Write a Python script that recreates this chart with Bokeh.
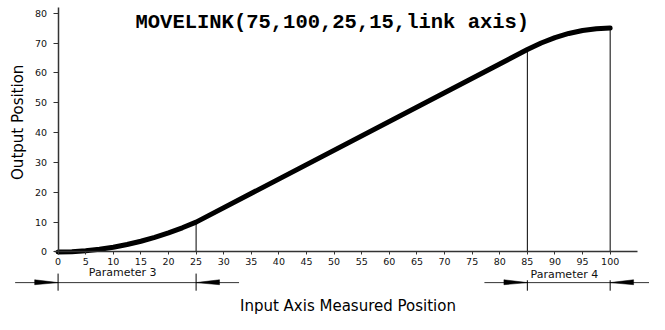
from bokeh.plotting import figure
from bokeh.models import Range1d, FixedTicker, Label
from bokeh.embed import file_html
from bokeh.resources import INLINE
from bokeh.core.properties import value
import numpy as np

# ---------------- data ----------------
title_text = "MOVELINK(75,100,25,15,link axis)"
x_label = "Input Axis Measured Position"
y_label = "Output Position"

input_pos = [0, 2.5, 5, 7.5, 10, 12.5, 15, 17.5, 20, 22.5, 25,
             85, 87.5, 90, 92.5, 95, 97.5, 100]
output_pos = [0, 0.1, 0.4, 0.9, 1.6, 2.5, 3.6, 4.9, 6.4, 8.1, 10.0,
              67.8, 70.0, 71.8, 73.2, 74.2, 74.8, 75.0]

x_ticks = list(range(0, 101, 5))
y_ticks = list(range(0, 81, 10))

param_names = ["Parameter 3", "Parameter 4"]
param_start = [0, 85]
param_end = [25, 100]
marker_x = [25, 85, 100]

# ---------------- layout ----------------
# Layout is designed on a 665x330 reference grid and scaled to the canvas.
REF_W, REF_H = 665.0, 330.0
W, H = 649, 314
RX0, RPX_X = 59.0, 5.657      # ref px of x=0, ref px per x unit
RY0, RPX_Y = 264.3, 3.1375    # ref px of y=0, ref px per y unit


def xd(rx):
    return (rx - RX0) / RPX_X


def yd(ry):
    return (RY0 - ry) / RPX_Y


def dxp(px):
    return px / RPX_X


def dyp(px):
    return px / RPX_Y


x_range = Range1d(xd(0), xd(REF_W))
y_range = Range1d(yd(REF_H), yd(0))

p = figure(width=W, height=H, x_range=x_range, y_range=y_range,
           output_backend="svg", toolbar_location=None,
           min_border=0, outline_line_color=None)
p.grid.visible = False
p.background_fill_color = "white"
p.border_fill_color = "white"

AX_COLOR = "#333333"
TICK_FONT = "DejaVu Sans"

# x axis at y = 0
xa = p.xaxis[0]
xa.fixed_location = 0
xa.bounds = (xd(55), xd(653))
xa.ticker = FixedTicker(ticks=x_ticks)
xa.axis_line_color = AX_COLOR
xa.axis_line_width = 1.5
xa.major_tick_line_color = AX_COLOR
xa.major_tick_in = 0
xa.major_tick_out = 3
xa.minor_tick_line_color = None
xa.major_label_text_font = TICK_FONT
xa.major_label_text_font_size = "9.5px"
xa.major_label_text_color = "#111111"
xa.major_label_standoff = 3

# y axis at x = 0
ya = p.yaxis[0]
ya.fixed_location = 0
ya.bounds = (0, yd(7))
ya.ticker = FixedTicker(ticks=y_ticks)
ya.axis_line_color = AX_COLOR
ya.axis_line_width = 1.5
ya.major_tick_line_color = AX_COLOR
ya.major_tick_in = 0
ya.major_tick_out = 5
ya.minor_tick_line_color = None
ya.major_label_text_font = TICK_FONT
ya.major_label_text_font_size = "9.5px"
ya.major_label_text_color = "#111111"
ya.major_label_standoff = 6

# profile curve
p.line(input_pos, output_pos, line_color="black", line_width=5,
       line_join="round", line_cap="round")

# vertical guide lines from axis to curve
marker_top = list(np.interp(marker_x, input_pos, output_pos))
p.segment(x0=marker_x, y0=[0] * len(marker_x), x1=marker_x, y1=marker_top,
          line_color="black", line_width=1)

# dimension lines below the axis
dim_y = yd(296.5)
ext_over = dxp(44)
p.segment(x0=[s - ext_over for s in param_start], y0=[dim_y] * 2,
          x1=[e + ext_over for e in param_end], y1=[dim_y] * 2,
          line_color=AX_COLOR, line_width=1)

# extension lines
ext_x = [param_start[0], param_end[0], param_start[1], param_end[1]]
ext_top = [yd(287), yd(287), yd(294), yd(294)]
p.segment(x0=ext_x, y0=ext_top, x1=ext_x, y1=[yd(305)] * 4,
          line_color="black", line_width=1)

# arrow heads (elongated wedges pointing at the extension lines)
alen = dxp(24)
up, dn = dyp(3), dyp(2.2)
xs, ys = [], []
for s, e in zip(param_start, param_end):
    xs.append([s - alen, s, s - alen])
    ys.append([dim_y + up, dim_y, dim_y - dn])
    xs.append([e + alen, e, e + alen])
    ys.append([dim_y + up, dim_y, dim_y - dn])
p.patches(xs, ys, fill_color="black", line_color="black", line_width=0.5)

# parameter labels
p.text(x=[(s + e) / 2 - dxp(4.5) for s, e in zip(param_start, param_end)],
       y=[yd(286), yd(288)], text=param_names,
       text_font=value("DejaVu Sans"), text_font_size="11px",
       text_align="center", text_baseline="middle", text_color="#111111")

# title
p.add_layout(Label(x=xd(340), y=yd(23.5), text=title_text,
                   text_font="Liberation Mono", text_font_style="bold",
                   text_font_size="20.5px", text_align="center",
                   text_baseline="alphabetic", text_color="black"))

# axis labels
p.add_layout(Label(x=xd(356), y=yd(321), text=x_label,
                   text_font="DejaVu Sans", text_font_size="15px",
                   text_align="center", text_baseline="alphabetic",
                   text_color="black"))
p.add_layout(Label(x=xd(18), y=yd(128), text=y_label,
                   angle=np.pi / 2, text_font="DejaVu Sans",
                   text_font_size="15px", text_align="center",
                   text_baseline="middle", text_color="black"))

open("out.html", "w").write(file_html(p, INLINE))
